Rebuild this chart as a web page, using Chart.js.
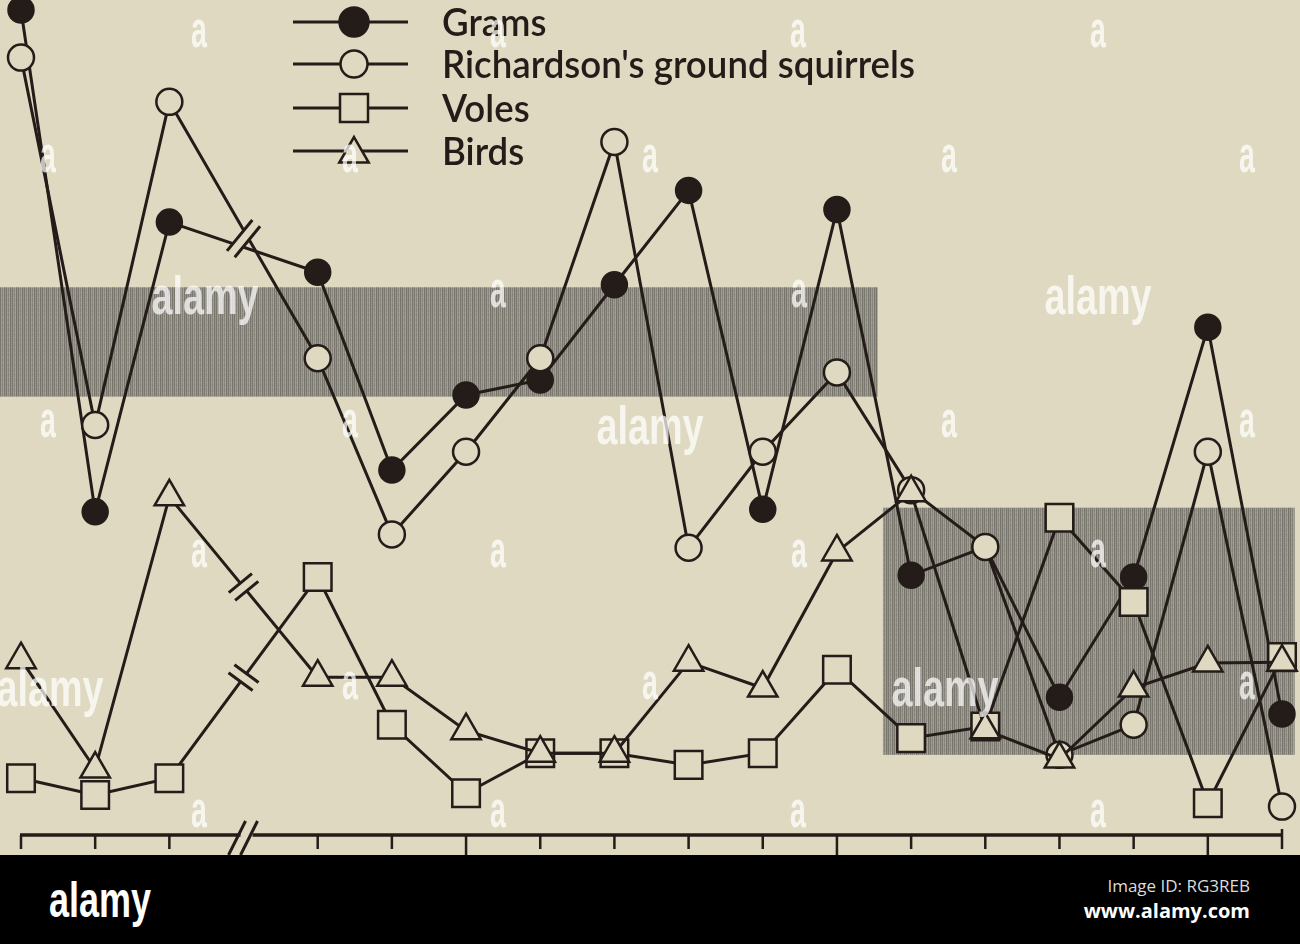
<!DOCTYPE html>
<html>
<head>
<meta charset="utf-8">
<title>Grams, Richardson's ground squirrels, voles and birds</title>
<script src="https://cdn.jsdelivr.net/npm/chart.js@4.4.1/dist/chart.umd.min.js"></script>
<style>
  html, body { margin:0; padding:0; background:#dfd9c1; }
  #stage { position:relative; width:1300px; height:944px; overflow:hidden; background:#dfd9c1; }
  #chart { position:absolute; left:0; top:0; }
  .leg { position:absolute; left:442px; font-family:Lato, "Open Sans", sans-serif; font-weight:600; font-size:38px; line-height:1; color:#231c19; white-space:nowrap; transform-origin:0 50%; }
  .wm { position:absolute; font-family:"Liberation Sans", Arial, sans-serif; font-weight:bold; color:rgba(255,255,255,0.72); line-height:1; white-space:nowrap; transform-origin:50% 50%; }
  #footer { position:absolute; left:0; top:855px; width:1300px; height:89px; background:#000; }
  #logo { position:absolute; left:100px; top:45px; font-family:"Liberation Sans", Arial, sans-serif; font-weight:bold; font-size:50px; color:#fff; line-height:1; transform:translate(-50%,-50%) scaleX(0.72); }
  #imgid { position:absolute; right:50px; top:22px; font-family:"Open Sans", sans-serif; font-size:17px; color:#dcdcdc; line-height:1; }
  #www { position:absolute; right:50px; top:46px; font-family:"Open Sans", sans-serif; font-weight:bold; font-size:20px; color:#fff; line-height:1; }
</style>
</head>
<body>
<div id="stage">
  <canvas id="chart" width="1300" height="944"></canvas>
  <div id="legendText"></div>
  <div id="watermarks"></div>
  <div id="footer">
    <div id="logo">alamy</div>
    <div id="imgid">Image ID: RG3REB</div>
    <div id="www">www.alamy.com</div>
  </div>
</div>
<script>
// ---------------- data (arbitrary vertical units 0-100) ----------------
const sampleIndex = [0, 1, 2, 4, 5, 6, 7, 8, 9, 10, 11, 12, 13, 14, 15, 16, 17];
const grams      = [98.8, 38.7, 73.4, 67.4, 43.7, 52.7, 54.5, 65.9, 77.2, 39.0, 74.9, 31.1, 34.5, 16.5, 30.9, 60.8, 14.5];
const squirrels  = [93.1, 49.1, 87.8, 57.1, 36.0, 45.9, 57.1, 83.0, 34.4, 45.9, 55.4, 41.3, 34.5, 9.6, 13.2, 45.9, 3.4];
const voles      = [6.8, 4.8, 6.8, 30.9, 13.2, 5.0, 9.8, 9.8, 8.4, 9.8, 19.8, 11.6, 13.0, 38.0, 27.9, 3.8, 21.3];
const birds      = [21.0, 7.9, 40.5, 18.9, 18.9, 12.5, 9.8, 9.8, 20.7, 17.6, 33.9, 41.0, 12.6, 9.1, 17.6, 20.6, 20.7];
const seriesNames = ['Grams', "Richardson's ground squirrels", 'Voles', 'Birds'];

// x axis tick positions (sample slots), long ticks, and the axis break slot
const tickSlots  = [0, 1, 2, 4, 5, 6, 7, 8, 9, 10, 11, 12, 13, 14, 15, 16, 17];
const majorSlots = [6, 11, 16];
const breakSlot  = 3;

// shaded ranges
const bandFrom = [-0.3, 11.62];
const bandTo   = [11.55, 17.17];
const bandLow  = [52.5, 9.6];
const bandHigh = [65.6, 39.2];

// ---------------- styling ----------------
const INK = '#231c19';
const PAPER = '#dfd9c1';

function toPoints(vals) { return vals.map((v, i) => ({ x: sampleIndex[i], y: v })); }

// striped grey texture for the shaded ranges
function makeBandPattern(ctx) {
  const c = document.createElement('canvas');
  c.width = 6; c.height = 5;
  const g = c.getContext('2d');
  const cols = ['#7a776e', '#9d9a90', '#848178', '#a29f95', '#77746b', '#96938a'];
  for (let i = 0; i < 6; i++) { g.fillStyle = cols[i]; g.fillRect(i, 0, 1, 5); }
  g.fillStyle = 'rgba(255,255,255,0.08)'; g.fillRect(1, 2, 3, 1);
  return ctx.createPattern(c, 'repeat');
}

const bandPlugin = {
  id: 'bands',
  beforeDatasetsDraw(chart) {
    const { ctx, scales: { x, y } } = chart;
    ctx.save();
    ctx.fillStyle = makeBandPattern(ctx);
    for (let i = 0; i < bandFrom.length; i++) {
      const x0 = x.getPixelForValue(bandFrom[i]), x1 = x.getPixelForValue(bandTo[i]);
      const y0 = y.getPixelForValue(bandHigh[i]), y1 = y.getPixelForValue(bandLow[i]);
      ctx.fillRect(x0, y0, x1 - x0, y1 - y0);
    }
    ctx.restore();
  }
};

const axisPlugin = {
  id: 'axisLine',
  beforeDatasetsDraw(chart) {
    const { ctx, scales: { x, y } } = chart;
    const y0 = y.getPixelForValue(0);
    const xs = x.getPixelForValue(tickSlots[0]);
    const xe = x.getPixelForValue(tickSlots[tickSlots.length - 1]);
    const xb = x.getPixelForValue(breakSlot);
    ctx.save();
    ctx.strokeStyle = INK; ctx.lineCap = 'butt';
    ctx.lineWidth = 3.5;
    ctx.beginPath();
    ctx.moveTo(xs - 1, y0); ctx.lineTo(xb - 3, y0);
    ctx.moveTo(xb + 9, y0); ctx.lineTo(xe + 1, y0);
    ctx.stroke();
    // axis break //
    ctx.lineWidth = 3;
    ctx.beginPath();
    ctx.moveTo(xb - 15, y0 + 20); ctx.lineTo(xb + 2, y0 - 14);
    ctx.moveTo(xb - 3, y0 + 20); ctx.lineTo(xb + 14, y0 - 14);
    ctx.stroke();
    // ticks
    ctx.lineWidth = 2.5;
    ctx.beginPath();
    tickSlots.forEach(s => {
      const px = x.getPixelForValue(s);
      const len = majorSlots.includes(s) ? 30 : 14;
      const up = (s === tickSlots[tickSlots.length - 1]) ? 6 : 0;
      ctx.moveTo(px, y0 - up); ctx.lineTo(px, y0 + len);
    });
    ctx.stroke();
    ctx.restore();
  }
};

// break marks on the lines between slot 2 and slot 4
const breakGroups = [[0, 1], [2], [3]];
const breakPlugin = {
  id: 'lineBreaks',
  afterDatasetsDraw(chart) {
    const ctx = chart.ctx;
    const k = sampleIndex.indexOf(2);
    breakGroups.forEach(group => {
      let cx = 0, cy = 0, dx = 0, dy = 0;
      group.forEach(di => {
        const pts = chart.getDatasetMeta(di).data;
        const a = pts[k], b = pts[k + 1];
        cx += (a.x + b.x) / 2; cy += (a.y + b.y) / 2;
        const len = Math.hypot(b.x - a.x, b.y - a.y);
        dx += (b.x - a.x) / len; dy += (b.y - a.y) / len;
      });
      cx /= group.length; cy /= group.length;
      const l = Math.hypot(dx, dy); dx /= l; dy /= l;
      const nx = -dy, ny = dx;
      const L = group.length > 1 ? 40 : 30;
      const g = 10;
      ctx.save();
      ctx.fillStyle = PAPER;
      ctx.beginPath();
      const h = L / 2 - 4;
      ctx.moveTo(cx - dx * g / 2 - nx * h, cy - dy * g / 2 - ny * h);
      ctx.lineTo(cx + dx * g / 2 - nx * h, cy + dy * g / 2 - ny * h);
      ctx.lineTo(cx + dx * g / 2 + nx * h, cy + dy * g / 2 + ny * h);
      ctx.lineTo(cx - dx * g / 2 + nx * h, cy - dy * g / 2 + ny * h);
      ctx.closePath();
      ctx.fill();
      ctx.strokeStyle = INK; ctx.lineWidth = 3;
      ctx.beginPath();
      [-1, 1].forEach(sg => {
        const ox = cx + sg * dx * g / 2, oy = cy + sg * dy * g / 2;
        ctx.moveTo(ox - nx * L / 2, oy - ny * L / 2);
        ctx.lineTo(ox + nx * L / 2, oy + ny * L / 2);
      });
      ctx.stroke();
      ctx.restore();
    });
  }
};

// legend samples (line + marker), text is HTML
const legendRows = [22, 64, 108, 151];
function drawMarker(ctx, style, x, y, r, filled) {
  ctx.beginPath();
  if (style === 'circle') {
    ctx.arc(x, y, r, 0, Math.PI * 2);
  } else if (style === 'rect') {
    ctx.rect(x - r, y - r, 2 * r, 2 * r);
  } else {
    const a = Math.PI * 2 / 3;
    ctx.moveTo(x, y - r);
    ctx.lineTo(x + Math.sin(a) * r, y - Math.cos(a) * r);
    ctx.lineTo(x + Math.sin(2 * a) * r, y - Math.cos(2 * a) * r);
    ctx.closePath();
  }
  ctx.fillStyle = filled ? INK : PAPER;
  ctx.fill();
  ctx.stroke();
}
const legendPlugin = {
  id: 'legendSamples',
  afterDraw(chart) {
    const ctx = chart.ctx;
    ctx.save();
    ctx.strokeStyle = INK;
    chart.data.datasets.forEach((ds, i) => {
      const yy = legendRows[i];
      ctx.lineWidth = 3;
      ctx.beginPath(); ctx.moveTo(293, yy); ctx.lineTo(408, yy); ctx.stroke();
      ctx.lineWidth = 2.5;
      const style = ds.pointStyle;
      const r = style === 'circle' ? (i === 0 ? 14.5 : 13.5) : style === 'rect' ? 14 : 17;
      drawMarker(ctx, style, 354, style === 'triangle' ? yy + 3 : yy, r, i === 0);
    });
    ctx.restore();
  }
};

function ds(label, vals, style, radius, filled, order) {
  return {
    label, data: toPoints(vals), order,
    borderColor: INK, borderWidth: 3,
    pointStyle: style, pointRadius: radius,
    pointBackgroundColor: filled ? INK : PAPER,
    pointBorderColor: INK, pointBorderWidth: 2.5,
    clip: false, tension: 0, fill: false
  };
}

const chart = new Chart(document.getElementById('chart'), {
  type: 'line',
  data: {
    datasets: [
      ds(seriesNames[0], grams, 'circle', 12.5, true, 4),
      ds(seriesNames[1], squirrels, 'circle', 13, false, 2),
      ds(seriesNames[2], voles, 'rect', 19.5, false, 3),
      ds(seriesNames[3], birds, 'triangle', 17, false, 1)
    ]
  },
  options: {
    responsive: false, animation: false, devicePixelRatio: 1,
    layout: { autoPadding: false, padding: { left: 21, right: 18, top: 0, bottom: 109 } },
    scales: {
      x: { type: 'linear', min: 0, max: 17, display: false },
      y: { type: 'linear', min: 0, max: 100, display: false }
    },
    plugins: { legend: { display: false }, tooltip: { enabled: false } }
  },
  plugins: [bandPlugin, axisPlugin, breakPlugin, legendPlugin]
});

// legend labels
const legendBox = document.getElementById('legendText');
const spans = seriesNames.map((name, i) => {
  const d = document.createElement('div');
  d.className = 'leg';
  d.textContent = name;
  d.style.top = (legendRows[i] - 20) + 'px';
  legendBox.appendChild(d);
  return d;
});
const targetWidth = 473;
const w = spans[1].getBoundingClientRect().width;
const sx = targetWidth / w;
spans.forEach(s => s.style.transform = 'scaleX(' + sx.toFixed(3) + ')');

// stock-photo watermark overlay
const wmSmall = [[199,35],[498,35],[798,35],[1098,35],
  [48,160],[350,160],[650,160],[949,160],[1247,160],
  [498,295],[799,295],
  [48,425],[350,425],[949,425],[1247,425],
  [199,555],[498,555],[799,555],[1098,555],
  [350,687],[650,687],[1247,687],
  [199,815],[498,815],[798,815],[1098,815]];
const wmLogo = [[205,295],[1098,295],[650,425],[50,687],[945,687]];
const wmBox = document.getElementById('watermarks');
wmSmall.forEach(([x, y]) => {
  const d = document.createElement('div');
  d.className = 'wm'; d.textContent = 'a';
  d.style.fontSize = '52px';
  d.style.left = x + 'px'; d.style.top = (y - 6) + 'px';
  d.style.transform = 'translate(-50%,-50%) scaleX(0.55)';
  wmBox.appendChild(d);
});
wmLogo.forEach(([x, y]) => {
  const d = document.createElement('div');
  d.className = 'wm'; d.textContent = 'alamy';
  d.style.fontSize = '54px';
  d.style.left = x + 'px'; d.style.top = y + 'px';
  d.style.transform = 'translate(-50%,-50%) scaleX(0.70)';
  wmBox.appendChild(d);
});
</script>
</body>
</html>
